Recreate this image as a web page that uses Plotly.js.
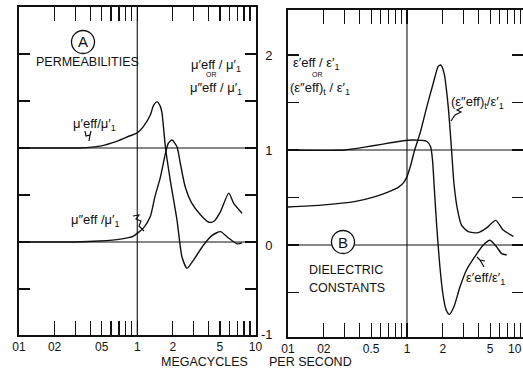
<!DOCTYPE html>
<html>
<head>
<meta charset="utf-8">
<script src="https://cdn.plot.ly/plotly-3.0.1.min.js"></script>
<style>html,body{margin:0;padding:0;background:#fff}#plot{width:523px;height:375px}</style>
</head>
<body>
<div id="plot"></div>
<script>
// ---- Data ----
// Panel A: permeabilities
var muRealF = [0.1, 0.2, 0.33, 0.485, 0.67, 0.87, 1.0, 1.13, 1.29, 1.37, 1.47, 1.57, 1.62, 1.73, 1.9, 2.17, 2.39, 2.64, 3.0, 3.65, 4.3, 5.05, 5.94, 7.0, 7.7];
var muRealV = [1.0, 1.0, 1.0, 1.02, 1.07, 1.13, 1.16, 1.23, 1.35, 1.45, 1.49, 1.44, 1.37, 1.01, 0.66, 0.23, -0.16, -0.28, -0.19, -0.03, 0.07, 0.11, 0.04, -0.02, -0.01];
var muImagF = [0.1, 0.3, 0.48, 0.72, 0.92, 1.13, 1.29, 1.41, 1.57, 1.73, 1.83, 1.97, 2.17, 2.31, 2.54, 2.9, 3.42, 4.04, 4.45, 5.05, 5.94, 6.55, 7.7];
var muImagV = [0.0, 0.0, 0.01, 0.03, 0.06, 0.15, 0.27, 0.48, 0.69, 0.94, 1.05, 1.085, 1.01, 0.84, 0.59, 0.41, 0.29, 0.21, 0.22, 0.32, 0.52, 0.41, 0.305];
// Panel B: dielectric constants
var epsRealF = [0.1, 0.3, 0.44, 0.61, 0.85, 1.13, 1.47, 1.58, 1.64, 1.7, 1.78, 1.87, 2.0, 2.13, 2.27, 2.48, 2.79, 3.17, 3.73, 4.38, 4.98, 5.67, 6.25, 6.89];
var epsRealV = [1.0, 1.0, 1.03, 1.06, 1.09, 1.105, 1.09, 1.035, 0.89, 0.58, 0.19, -0.16, -0.51, -0.68, -0.73, -0.65, -0.44, -0.26, -0.12, 0.0, 0.05, -0.02, -0.09, -0.105];
var epsImagF = [0.1, 0.19, 0.37, 0.54, 0.7, 0.85, 0.94, 1.0, 1.08, 1.16, 1.29, 1.47, 1.66, 1.83, 1.92, 2.05, 2.22, 2.37, 2.48, 2.66, 2.87, 3.27, 3.97, 4.66, 5.57, 6.4, 7.85];
var epsImagV = [0.40, 0.42, 0.46, 0.51, 0.56, 0.61, 0.66, 0.72, 0.85, 1.0, 1.18, 1.46, 1.70, 1.88, 1.895, 1.81, 1.46, 1.0, 0.65, 0.37, 0.21, 0.14, 0.13, 0.18, 0.26, 0.16, 0.09];

// Axis ticks
var xLabelVals = [0.1, 0.2, 0.5, 1, 2, 5, 10];
var xLabelTextA = ["01", "02", "05", "1", "2", "5", "10"];
var xLabelTextB = ["01", "02", "0.5", "1", "2", "5", "10"];
var xMinorVals = [0.3, 0.4, 0.6, 0.7, 0.8, 0.9, 3, 4, 6, 7, 8, 9];
var yLabelVals = [-1, 0, 1, 2];
var yLabelText = ["-1", "0", "1", "2"];
var yMinorVals = [-0.5, 0.5, 1.5];

// ---- Styling / layout ----
var W = 523, H = 375;
function px(x){ return x / W; }
function py(y){ return 1 - y / H; }
var ink = '#111';
var FONT = 'Liberation Sans, Arial, sans-serif';

function curve(xs, ys, xa, ya){
  return {x: xs, y: ys, xaxis: xa, yaxis: ya, type: 'scatter', mode: 'lines',
          line: {color: ink, width: 1.4, shape: 'spline', smoothing: 0.6},
          hoverinfo: 'skip', showlegend: false};
}
var traces = [
  curve(muRealF, muRealV, 'x', 'y'),
  curve(muImagF, muImagV, 'x', 'y'),
  curve(epsRealF, epsRealV, 'x2', 'y2'),
  curve(epsImagF, epsImagV, 'x2', 'y2')
];

function xAxis(domain, range, text, anchor){
  return {type: 'log', domain: domain, range: range, anchor: anchor,
    showline: true, linecolor: ink, linewidth: 2, mirror: 'allticks',
    ticks: 'inside', ticklen: 14, tickwidth: 1.2, tickcolor: ink,
    tickmode: 'array', tickvals: xLabelVals, ticktext: text,
    minor: {tickmode: 'array', tickvals: xMinorVals, ticks: 'inside', ticklen: 14,
            tickwidth: 1.2, tickcolor: ink, showgrid: false},
    showgrid: false, zeroline: false, fixedrange: true,
    tickfont: {family: FONT, size: 12, color: ink}};
}
function yAxis(domain, range, anchor, showLabels){
  return {domain: domain, range: range, anchor: anchor,
    showline: true, linecolor: ink, linewidth: 2, mirror: 'allticks',
    ticks: 'inside', ticklen: 11, tickwidth: 1.2, tickcolor: ink,
    tickmode: 'array', tickvals: yLabelVals, ticktext: yLabelText,
    minor: {tickmode: 'array', tickvals: yMinorVals, ticks: 'inside', ticklen: 11,
            tickwidth: 1.2, tickcolor: ink, showgrid: false},
    showticklabels: showLabels, ticklabelstandoff: 11,
    showgrid: false, zeroline: false, fixedrange: true,
    tickfont: {family: FONT, size: 13, color: ink}};
}

var shapes = [];
function hline(xa, ya, v){
  shapes.push({type: 'line', xref: xa + ' domain', yref: ya, x0: 0, x1: 1, y0: v, y1: v,
               line: {color: ink, width: 1.1}});
}
function vline(xa, ya, v){
  shapes.push({type: 'line', xref: xa, yref: ya + ' domain', x0: v, x1: v, y0: 0, y1: 1,
               line: {color: ink, width: 1.1}});
}
hline('x','y',1); hline('x','y',0); vline('x','y',1);
hline('x2','y2',1); hline('x2','y2',0); vline('x2','y2',1);

function circle(cx, cy, r){
  shapes.push({type: 'circle', xref: 'paper', yref: 'paper',
    x0: px(cx - r), x1: px(cx + r), y0: py(cy + r), y1: py(cy - r),
    fillcolor: '#fff', line: {color: ink, width: 1.3}, layer: 'above'});
}
circle(83, 42, 11.5);
circle(343, 242, 11.5);

function path(pts){
  var d = '', cmd = 'M';
  for (var i = 0; i < pts.length; i++){
    var p = pts[i];
    if (p === 'M') { cmd = 'M'; continue; }
    d += ' ' + cmd + px(p[0]).toFixed(5) + ',' + py(p[1]).toFixed(5);
    cmd = 'L';
  }
  shapes.push({type: 'path', xref: 'paper', yref: 'paper', path: d.trim(),
               line: {color: ink, width: 1.2}});
}
// small pointer squiggles
path([[85,131],[86,136],[90,135],[91,131],'M',[90,135],[89,141]]);
path([[133,216],[139,215],[136,219],[141,221],[139,226],[144,231]]);
path([[463,107],[457,110],[461,112],[455,115],[451,121]]);
path([[484,267],[480,260],[485,261],'M',[480,260],[477,257]]);

var annotations = [];
function label(text, x, y, size, anchor){
  annotations.push({text: text, xref: 'paper', yref: 'paper', x: px(x), y: py(y),
    xanchor: anchor || 'left', yanchor: 'middle', showarrow: false,
    font: {family: FONT, size: size, color: ink}});
}
label('A', 83, 42, 15, 'center');
label('PERMEABILITIES', 34, 62, 12.5);
label('μ′eff / μ′<sub>1</sub>', 216, 65, 13, 'center');
label('OR', 211, 75, 7, 'center');
label('μ″eff / μ′<sub>1</sub>', 216, 88, 13, 'center');
label('μ′eff/μ′<sub>1</sub>', 71, 125, 13);
label('μ″eff /μ′<sub>1</sub>', 69, 220, 13);
label('ε′eff / ε′<sub>1</sub>', 291, 63, 13);
label('OR', 317, 75, 7, 'center');
label('(ε″eff)<sub>t</sub> / ε′<sub>1</sub>', 288, 88, 13);
label('(ε″eff)<sub>t</sub>/ε′<sub>1</sub>', 449, 102, 13);
label('B', 343, 242, 15, 'center');
label('DIELECTRIC', 307, 270, 12.5);
label('CONSTANTS', 307, 288, 12.5);
label('ε′eff/ε′<sub>1</sub>', 464, 278, 13);
label('-1', 267, 334, 13, 'center');
label('10', 515, 349, 12, 'center');
label('MEGACYCLES', 204, 362, 12.5, 'center');
label('PER SECOND', 267, 362, 12.5);

var layout = {
  width: W, height: H,
  margin: {l: 0, r: 0, t: 0, b: 0},
  paper_bgcolor: '#fff', plot_bgcolor: '#fff',
  showlegend: false,
  xaxis: xAxis([px(19), px(255.5)], [-1, 1], xLabelTextA, 'y'),
  yaxis: yAxis([py(335), py(7)], [-0.99, 2.5], 'x', false),
  xaxis2: xAxis([px(288), 1], [-1, 0.975], xLabelTextB, 'y2'),
  yaxis2: yAxis([py(337), py(10)], [-0.968, 2.474], 'x2', true),
  shapes: shapes,
  annotations: annotations
};

Plotly.newPlot('plot', traces, layout, {staticPlot: true, displayModeBar: false});
</script>
</body>
</html>
